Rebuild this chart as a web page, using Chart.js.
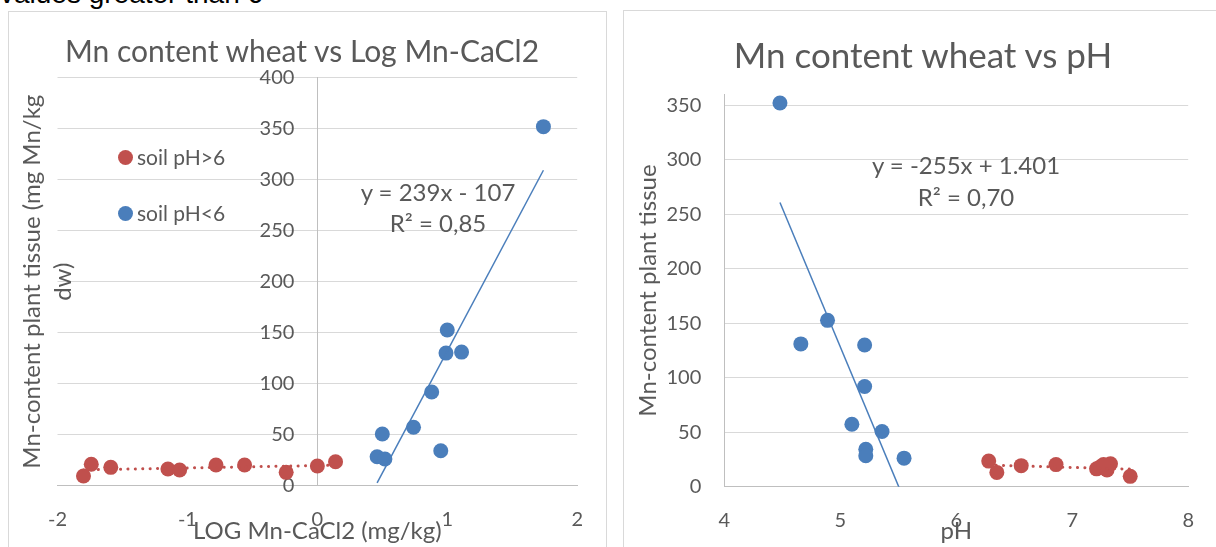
<!DOCTYPE html>
<html>
<head>
<meta charset="utf-8">
<script src="https://cdn.jsdelivr.net/npm/chart.js@4.4.1/dist/chart.umd.min.js"></script>
<style>
body{margin:0;width:1216px;height:547px;overflow:hidden;background:#fff;position:relative;font-family:Lato,sans-serif;color:#595959}
.box{position:absolute;border:1px solid #d9d9d9;background:#fff}
canvas{position:absolute}
.t{position:absolute;white-space:nowrap;line-height:1.2;transform:translate(-50%,-50%)}
.lg{position:absolute;white-space:nowrap;line-height:1.2;font-size:21px;transform:translateY(-50%)}
.dot{position:absolute;width:15px;height:15px;border-radius:50%}
#note{position:absolute;left:0;top:-20px;font:28px "Liberation Sans",Arial,sans-serif;line-height:1;color:#000;white-space:nowrap}
</style>
</head>
<body>

<div id="note">values greater than 6</div>

<div class="box" style="left:8px;top:11px;width:597px;height:600px"></div>
<div class="box" style="left:623px;top:10px;width:700px;height:600px"></div>

<canvas id="c1" width="596" height="535" style="left:9px;top:12px"></canvas>
<canvas id="c2" width="592" height="535" style="left:624px;top:12px"></canvas>

<div class="t" style="left:302px;top:50px;font-size:30px">Mn content wheat vs Log Mn-CaCl2</div>
<div class="t" style="left:923px;top:54px;font-size:35px">Mn content wheat vs pH</div>

<div class="dot" style="left:117.5px;top:149.5px;background:#c0504d"></div>
<div class="lg" style="left:137px;top:157px">soil pH&gt;6</div>
<div class="dot" style="left:117.5px;top:205.5px;background:#4a7ebb"></div>
<div class="lg" style="left:137px;top:213px">soil pH&lt;6</div>

<div class="t" style="left:438px;top:192px;font-size:24px">y = 239x - 107</div>
<div class="t" style="left:438px;top:223px;font-size:24px">R² = 0,85</div>
<div class="t" style="left:966px;top:165px;font-size:24px">y = -255x + 1.401</div>
<div class="t" style="left:966px;top:197px;font-size:24px">R² = 0,70</div>

<script>
// soil pH > 6
const logHigh = [-1.80, -1.74, -1.59, -1.15, -1.06, -0.78, -0.56, -0.24, 0.00, 0.14]
const phHigh = [7.50, 7.33, 7.24, 7.21, 7.30, 6.86, 7.27, 6.35, 6.56, 6.28]
const mnHigh = [9.5, 21, 18, 16.4, 15.4, 20.3, 20.3, 13.1, 19.3, 23.5]

// soil pH < 6
const logLow = [1.74, 1.00, 1.11, 0.99, 0.88, 0.74, 0.50, 0.95, 0.46, 0.52]
const phLow = [4.48, 4.89, 4.66, 5.21, 5.21, 5.10, 5.36, 5.22, 5.22, 5.55]
const mnLow = [352, 152.6, 131, 130, 91.9, 57.3, 50.7, 34.3, 28.4, 26.2]

const seriesNames = ["soil pH>6", "soil pH<6"]

const logRange = [-2, 2]
const phRange = [4, 8]
const mnRangeLog = [0, 400]
const mnRangePh = [0, 360]
const xStep = 1
const yStep = 50

const red = "#c0504d"
const blue = "#4a7ebb"
const grey = "#595959"
const gridColor = "#d9d9d9"
const axisColor = "#bfbfbf"

const tickFont = {family:"Lato", size:20}
const axisTitleFont = {family:"Lato", size:24, lineHeight:1.32}

function pts(xs, ys){
return xs.map((x,i)=>({x:x, y:ys[i]}))
}

// least squares line over the range of the data
function trend(xs, ys){
const n = xs.length
const mx = xs.reduce((a,b)=>a+b,0)/n
const my = ys.reduce((a,b)=>a+b,0)/n
let sxy = 0, sxx = 0
for(let i=0;i<n;i++){
sxy += (xs[i]-mx)*(ys[i]-my)
sxx += (xs[i]-mx)*(xs[i]-mx)
}
const m = sxy/sxx
const b = my - m*mx
const lo = Math.min(...xs), hi = Math.max(...xs)
return [{x:lo, y:m*lo+b}, {x:hi, y:m*hi+b}]
}

function sets(xHigh, xLow){
return [
{data:trend(xLow, mnLow), showLine:true, borderColor:blue, borderWidth:1.5, pointRadius:0, order:0},
{data:trend(xHigh, mnHigh), showLine:true, borderColor:red, borderWidth:3, borderDash:[0.1,7.3], borderCapStyle:"round", pointRadius:0, order:0},
{label:seriesNames[0], data:pts(xHigh, mnHigh), pointBackgroundColor:red, pointRadius:7.5, pointBorderWidth:0, order:1},
{label:seriesNames[1], data:pts(xLow, mnLow), pointBackgroundColor:blue, pointRadius:7.5, pointBorderWidth:0, order:1}
]
}

// ticks every yStep up to the axis max, without the max itself
function stepTicks(s){
s.ticks = []
for(let v=s.min; v<=s.max; v+=yStep) s.ticks.push({value:v})
}

const common = {
responsive:false,
animation:false,
events:[],
plugins:{legend:{display:false}, tooltip:{enabled:false}}
}

new Chart(document.getElementById("c1"), {
type:"scatter",
data:{datasets:sets(logHigh, logLow)},
options:{
...common,
layout:{padding:{top:65.7, right:26.7, left:0, bottom:0}},
scales:{
x:{
type:"linear", min:logRange[0], max:logRange[1],
ticks:{stepSize:xStep, font:tickFont, color:grey, padding:22},
grid:{display:false, drawTicks:false},
border:{color:axisColor},
title:{display:true, text:"LOG Mn-CaCl2 (mg/kg)", font:axisTitleFont, color:grey, padding:0},
afterFit:s=>{ s.height = 61.3 }
},
// vertical axis crosses at x = 0, the middle of the -2..2 range
y:{
type:"linear", position:"center", min:mnRangeLog[0], max:mnRangeLog[1],
ticks:{stepSize:yStep, font:tickFont, color:grey, padding:23},
grid:{color:gridColor, drawTicks:false},
border:{color:axisColor},
afterFit:s=>{ s.width = 0 }
},
yt:{
type:"linear", position:"left",
ticks:{display:false},
grid:{display:false},
border:{display:false},
title:{display:true, text:["Mn-content plant tissue (mg Mn/kg", "dw)"], font:axisTitleFont, color:grey, padding:{top:7, bottom:0}},
afterFit:s=>{ s.width = 48.5 }
}
}
}
})

new Chart(document.getElementById("c2"), {
type:"scatter",
data:{datasets:sets(phHigh, phLow)},
options:{
...common,
layout:{padding:{top:82.3, right:23.7, left:0, bottom:0}},
scales:{
x:{
type:"linear", min:phRange[0], max:phRange[1],
ticks:{stepSize:xStep, font:tickFont, color:grey, padding:22},
grid:{display:false, drawTicks:false},
border:{color:axisColor},
title:{display:true, text:"pH", font:axisTitleFont, color:grey, padding:0},
afterFit:s=>{ s.height = 60.3 }
},
y:{
type:"linear", position:"left", min:mnRangePh[0], max:mnRangePh[1],
ticks:{font:tickFont, color:grey, padding:23},
afterBuildTicks:stepTicks,
grid:{color:gridColor, drawTicks:false},
border:{color:axisColor},
title:{display:true, text:"Mn-content plant tissue", font:axisTitleFont, color:grey, padding:{top:8.6, bottom:0}},
afterFit:s=>{ s.width = 100.3 }
}
}
}
})
</script>
</body>
</html>
